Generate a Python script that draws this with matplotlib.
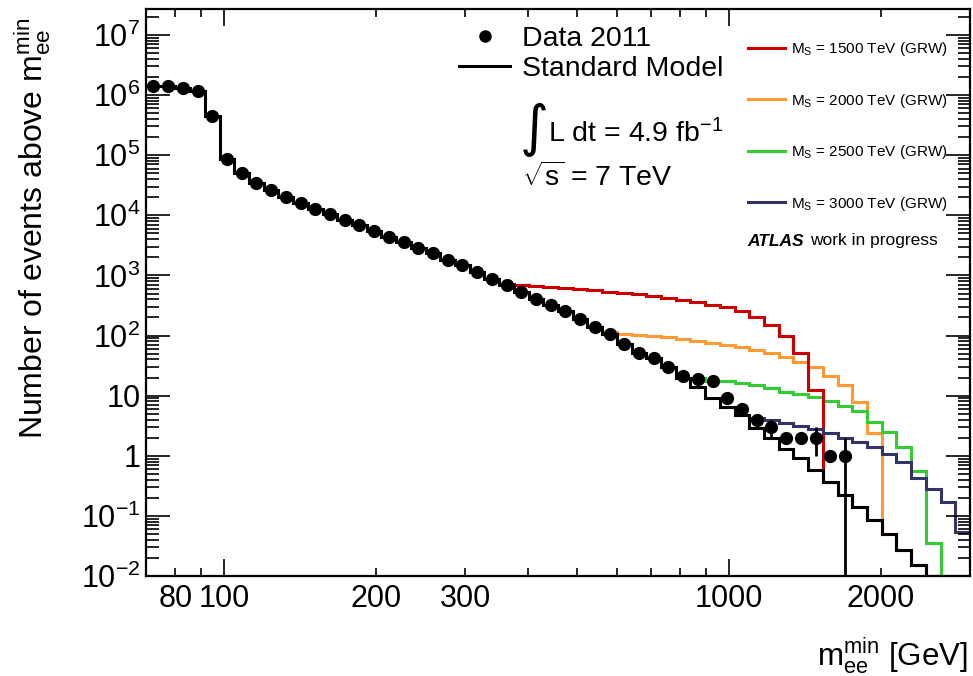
import numpy as np
import matplotlib
matplotlib.use("Agg")
import matplotlib.pyplot as plt
from matplotlib.ticker import LogLocator, FuncFormatter
from matplotlib.lines import Line2D

plt.rcParams["font.family"] = ["Liberation Sans", "DejaVu Sans"]
plt.rcParams["mathtext.fontset"] = "custom"
plt.rcParams["mathtext.rm"] = "Liberation Sans"
plt.rcParams["mathtext.it"] = "Liberation Sans:italic"
plt.rcParams["mathtext.bf"] = "Liberation Sans:bold"

# 56 log-spaced bins, 70 -> 3000 GeV (cumulative counts above m_min)
N_BINS = 56
M_LO, M_HI = 70, 3000
Y_LO, Y_HI = 1e-2, 2.7e7

data = [1.40e6, 1.40e6, 1.32e6, 1.18e6, 4.4e5, 8.8e4, 5.0e4, 3.47e4, 2.6e4, 2.0e4,
        1.63e4, 1.26e4, 1.04e4, 8.5e3, 6.8e3, 5.5e3, 4.35e3, 3.55e3, 2.9e3, 2.33e3,
        1.8e3, 1.47e3, 1.14e3, 880, 681, 526, 408, 316, 254, 190,
        138, 105, 71, 52, 43, 30.5, 21, 18.7, 17.6, 9,
        6, 4, 3, 2, 2, 2, 1, 1]
err_bins = [39, 40, 41, 42, 45, 47]
err_lo = [1.7, 1.4, 1.0, 1.0, 1.0, 0.999]
err_hi = [1.7, 1.4, 1.0, 1.0, 1.0, 1.0]

sm = [1.40e6, 1.40e6, 1.32e6, 1.18e6, 4.4e5, 8.8e4, 5.0e4, 3.47e4, 2.6e4, 2.0e4,
      1.63e4, 1.26e4, 1.04e4, 8.5e3, 6.8e3, 5.5e3, 4.35e3, 3.55e3, 2.9e3, 2.33e3,
      1.8e3, 1.47e3, 1.14e3, 880, 681, 526, 408, 316, 254, 190,
      138, 105, 71, 52, 43, 30.5, 20, 13.8, 9.3, 6.5,
      4.7, 2.9, 2.0, 1.32, 0.92, 0.59, 0.37, 0.226, 0.14, 0.086,
      0.0495, 0.027, 0.015, 0, 0, 0]

# signal + SM, given from the bin where they leave the SM curve
red_start = 24
red = [724, 692, 668, 646, 617, 589, 562, 537, 513, 490, 462, 422, 385, 359, 327,
       295, 257, 204, 147, 100, 51, 12.6]
orange_start = 31
orange = [113.5, 107, 102, 97.7, 93.3, 88.1, 82.6, 75.5, 70, 63.8, 57.5, 51.3, 44.7,
          35.9, 29.5, 21.5, 14.8, 7.8, 2.4]
green_start = 37
green = [19.7, 17.6, 17.4, 16.2, 14.8, 13.2, 11.7, 10.6, 9.5, 8.0, 6.7, 5.5, 3.7,
         2.45, 1.38, 0.55, 0.036]
blue_start = 40
blue = [4.8, 4.27, 3.9, 3.55, 3.16, 2.79, 2.35, 1.97, 1.67, 1.41, 1.09, 0.79, 0.43,
        0.28, 0.167, 0.053]

signals = [
    ("M$_{\\mathrm{S}}$ = 1500 TeV (GRW)", red_start, red, "#cc0000"),
    ("M$_{\\mathrm{S}}$ = 2000 TeV (GRW)", orange_start, orange, "#ff9933"),
    ("M$_{\\mathrm{S}}$ = 2500 TeV (GRW)", green_start, green, "#33cc33"),
    ("M$_{\\mathrm{S}}$ = 3000 TeV (GRW)", blue_start, blue, "#333366"),
]

edges = np.geomspace(M_LO, M_HI, N_BINS + 1)
centers = np.sqrt(edges[:-1] * edges[1:])
sm_arr = np.array(sm, dtype=float)

fig = plt.figure(figsize=(9.73, 6.76), dpi=100)
ax = fig.add_axes([146 / 973, 1 - 576 / 676, 824 / 973, 567 / 676])

LW = 2.2
draw_order = [1, 2, 0, 3]
for i in draw_order:
    _, start, vals, col = signals[i]
    full = sm_arr.copy()
    full[start:start + len(vals)] = vals
    full = np.clip(full, Y_LO, None)
    ax.stairs(full[start - 1:], edges[start - 1:], baseline=None, color=col, lw=LW)

ax.stairs(np.clip(sm_arr, Y_LO, None), edges, baseline=None, color="black", lw=LW, zorder=3)

n = len(data)
yerr = np.zeros((2, n))
yerr[0, err_bins] = err_lo
yerr[1, err_bins] = err_hi
ax.errorbar(centers[:n], data, yerr=yerr, fmt="o", color="black", ms=8.5,
            elinewidth=2, capsize=0, zorder=5)

ax.set_xscale("log")
ax.set_yscale("log")
ax.set_xlim(M_LO, M_HI)
ax.set_ylim(Y_LO, Y_HI)

ax.yaxis.set_major_locator(LogLocator(base=10, numticks=20))
ax.yaxis.set_minor_locator(LogLocator(base=10, subs=np.arange(2, 10), numticks=20))


def ylab(v, pos):
    e = int(round(np.log10(v)))
    return {0: "1", 1: "10"}.get(e, rf"$10^{{{e}}}$")


def xmaj(v, pos):
    return f"{v:g}"


def xmin(v, pos):
    return f"{v:g}" if int(round(v)) in (80, 200, 300, 2000) else ""


ax.yaxis.set_major_formatter(FuncFormatter(ylab))
ax.xaxis.set_major_formatter(FuncFormatter(xmaj))
ax.xaxis.set_minor_formatter(FuncFormatter(xmin))

ax.tick_params(which="both", direction="in", top=True, right=True, width=1.2)
ax.tick_params(axis="x", which="major", length=12, labelsize=22, pad=6)
ax.tick_params(axis="x", which="minor", length=6, labelsize=22, pad=6)
ax.tick_params(axis="y", which="major", length=17, labelsize=22, pad=4)
ax.tick_params(axis="y", which="minor", length=9)
for s in ax.spines.values():
    s.set_linewidth(1.6)

fig.text(33 / 973, 1 - 18 / 676,
         r"Number of events above $\mathrm{m_{ee}^{min}}$",
         rotation=90, ha="center", va="top", fontsize=23)
fig.text(968 / 973, 1 - 656 / 676, r"$\mathrm{m_{ee}^{min}}$ [GeV]",
         ha="right", va="center", fontsize=22.5)

# legends
h1 = [Line2D([], [], marker="o", ls="none", color="black", ms=8),
      Line2D([], [], color="black", lw=LW)]
leg1 = ax.legend(h1, ["Data 2011", "Standard Model"], loc="upper left",
                 bbox_to_anchor=(459 / 973, 1 - 26 / 676), bbox_transform=fig.transFigure,
                 frameon=False, fontsize=20.5, handlelength=1.8, handletextpad=0.4,
                 labelspacing=0.15, borderpad=0, borderaxespad=0)
ax.add_artist(leg1)

h2 = [Line2D([], [], color=s[3], lw=LW) for s in signals]
ax.legend(h2, [s[0] for s in signals], loc="upper left",
          bbox_to_anchor=(748 / 973, 1 - 40 / 676), bbox_transform=fig.transFigure,
          frameon=False, fontsize=11, handlelength=2.4, handletextpad=0.4,
          labelspacing=2.2, borderpad=0, borderaxespad=0)

fig.text(520 / 973, 1 - 130 / 676, "\u222b", fontsize=40, va="center", ha="left",
         family="DejaVu Sans")
fig.text(548 / 973, 1 - 134 / 676, r"L dt = 4.9 fb$^{-1}$", fontsize=20.5, va="center")
fig.text(522 / 973, 1 - 177 / 676, r"$\sqrt{\mathrm{s}}$ = 7 TeV", fontsize=20.5, va="center")

fig.text(747 / 973, 1 - 241 / 676, "ATLAS", fontsize=12.5, fontweight="bold",
         style="italic", va="center")
fig.text(810 / 973, 1 - 241 / 676, "work in progress", fontsize=12.5, va="center")

fig.savefig("out.png", dpi=100)
